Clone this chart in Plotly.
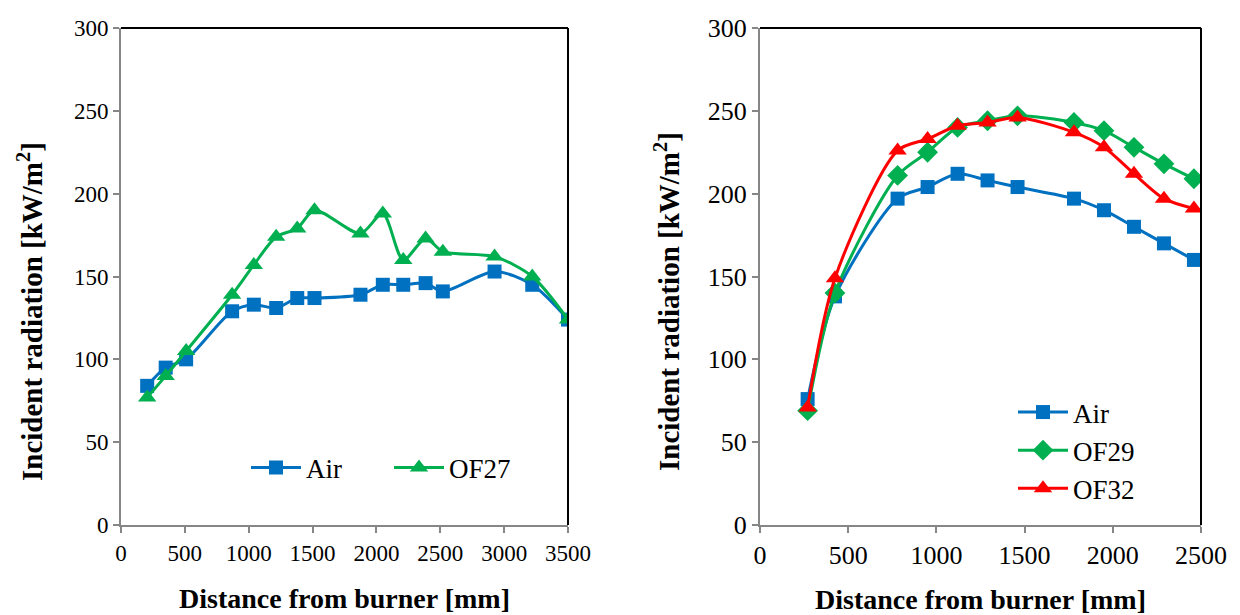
import plotly.graph_objects as go

# Left panel
left_x = [205, 350, 510, 870, 1040, 1215, 1380, 1515, 1875, 2050, 2210, 2385, 2520, 2925, 3220, 3500]
left_air = [84, 95, 100, 129, 133, 131, 137, 137, 139, 145, 145, 146, 141, 153, 145, 124]
left_of27 = [77, 90, 105, 139, 157, 174, 179, 190, 176, 188, 160, 173, 165, 162, 150, 124]

# Right panel
right_x = [270, 425, 780, 950, 1120, 1290, 1460, 1780, 1950, 2120, 2290, 2460]
right_air = [76, 138, 197, 204, 212, 208, 204, 197, 190, 180, 170, 160]
right_of29 = [69, 140, 211, 225, 240, 244, 247, 243, 238, 228, 218, 209]
right_of32 = [71, 149, 226, 233, 241, 243, 246, 237, 228, 212, 197, 191]

BLUE = "#0070C0"
GREEN = "#00B050"
RED = "#FF0000"
FONT = "Liberation Serif"

fig = go.Figure()

def add(x, y, name, color, symbol, size, xa, ya, legend):
    fig.add_trace(go.Scatter(
        x=x, y=y, name=name, mode="lines+markers",
        line=dict(color=color, width=3, shape="spline", smoothing=0.8),
        marker=dict(color=color, symbol=symbol, size=size),
        xaxis=xa, yaxis=ya, legend=legend))

add(left_x, left_air, "Air", BLUE, "square", 14, "x", "y", "legend")
add(left_x, left_of27, "OF27", GREEN, "triangle-up", 16, "x", "y", "legend")
add(right_x, right_air, "Air", BLUE, "square", 14, "x2", "y2", "legend2")
add(right_x, right_of29, "OF29", GREEN, "diamond", 16, "x2", "y2", "legend2")
add(right_x, right_of32, "OF32", RED, "triangle-up", 16, "x2", "y2", "legend2")

ydom = [1 - 525 / 615, 1 - 28 / 615]
axis_common = dict(showgrid=False, zeroline=False, showline=True, linecolor="#868686",
                   linewidth=2, ticks="outside", tickcolor="#868686", ticklen=6, tickwidth=1.5,
                   automargin=False)
ytitle = "<b>Incident radiation [kW/m<sup>2</sup>]</b>"
xtitle = "<b>Distance from burner [mm]</b>"

fig.update_layout(
    width=1240, height=615,
    margin=dict(l=0, r=0, t=0, b=0, autoexpand=False),
    paper_bgcolor="white", plot_bgcolor="white",
    font=dict(family=FONT, color="black"),
    showlegend=True,
    xaxis=dict(domain=[121 / 1240, 568 / 1240], range=[0, 3500], dtick=500,
               tickfont=dict(size=23), title=dict(text=xtitle, font=dict(size=28), standoff=24),
               anchor="y", **axis_common),
    yaxis=dict(domain=ydom, range=[0, 300], dtick=50,
               tickfont=dict(size=23), anchor="x", **axis_common),
    xaxis2=dict(domain=[760 / 1240, 1201 / 1240], range=[0, 2500], dtick=500,
                tickfont=dict(size=26), title=dict(text=xtitle, font=dict(size=28), standoff=22),
                anchor="y2", **axis_common),
    yaxis2=dict(domain=ydom, range=[0, 300], dtick=50,
                tickfont=dict(size=26), anchor="x2", **axis_common),
    legend=dict(orientation="h", x=246 / 1240, y=1 - 468 / 615, xanchor="left", yanchor="middle",
                font=dict(size=27), bgcolor="rgba(0,0,0,0)", itemwidth=50, tracegroupgap=0,
                entrywidth=78, entrywidthmode="pixels"),
    legend2=dict(orientation="v", x=1013 / 1240, y=1 - 388 / 615, xanchor="left", yanchor="top",
                 font=dict(size=27), bgcolor="rgba(0,0,0,0)", itemwidth=50, tracegroupgap=0),
)

# y-axis titles as rotated annotations (positioned like the reference)
for xc, yc in ((30, 312), (667, 302)):
    fig.add_annotation(text=ytitle, xref="paper", yref="paper",
                       x=xc / 1240, y=1 - yc / 615, xanchor="center", yanchor="middle",
                       textangle=-90, showarrow=False, font=dict(size=29))

# black top/right borders
for xr, yr in (("x domain", "y domain"), ("x2 domain", "y2 domain")):
    fig.add_shape(type="line", xref=xr, yref=yr, x0=0, x1=1, y0=1, y1=1,
                  line=dict(color="black", width=2))
    fig.add_shape(type="line", xref=xr, yref=yr, x0=1, x1=1, y0=0, y1=1,
                  line=dict(color="black", width=2))

fig.write_html("out.html")
